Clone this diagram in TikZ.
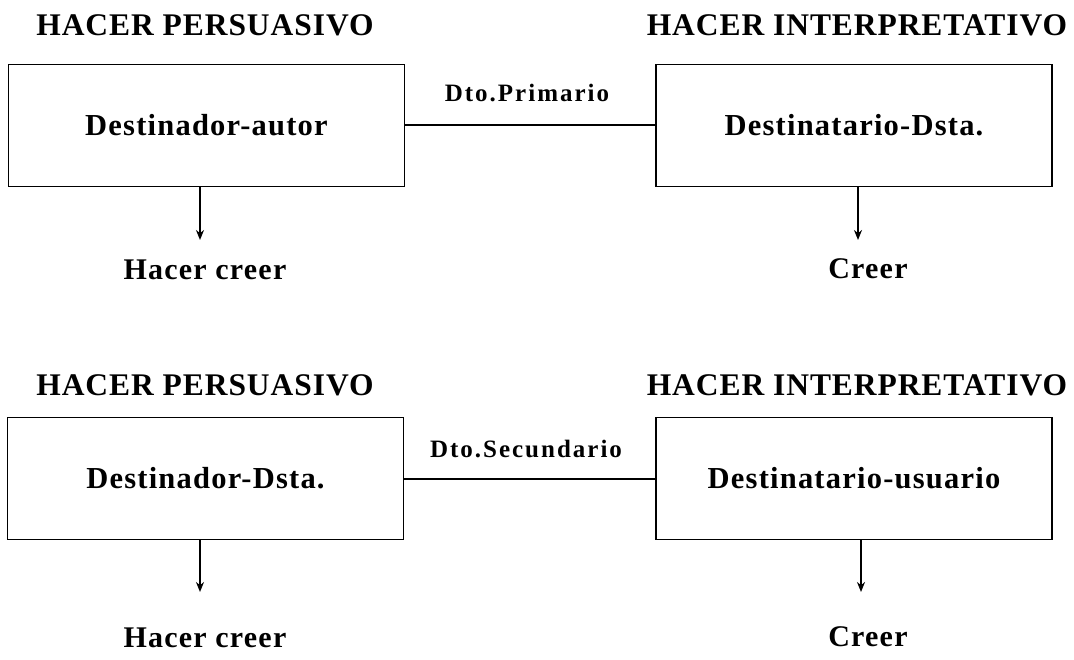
\documentclass[tikz,border=0pt]{standalone}
\usepackage{fontspec}
\usepackage{tikz}
\usetikzlibrary{arrows.meta}
\newfontfamily\dgfont{Liberation Serif}[LetterSpace=4]
\newfontfamily\dgtitfont{Liberation Serif}[LetterSpace=3]
\newfontfamily\dgdtofont{Liberation Serif}[LetterSpace=8]
\tikzset{
	caja/.style={draw, line width=1.3pt, minimum width=396pt, minimum height=122pt, inner sep=0pt, font=\dgfont\bfseries\fontsize{30.5}{30}\selectfont},
	titulo/.style={inner sep=0pt, font=\dgtitfont\bfseries\fontsize{31.5}{31}\selectfont},
	efecto/.style={inner sep=0pt, font=\dgfont\bfseries\fontsize{30}{30}\selectfont},
	dto/.style={inner sep=0pt, font=\dgdtofont\bfseries\fontsize{25}{25}\selectfont},
	flecha/.style={line width=2.2pt, -{Stealth[length=10pt, width=8pt]}},
	enlace/.style={line width=2pt}
}
\begin{document}
\begin{tikzpicture}[x=1pt, y=-1pt]
			%%%%% START %%%%%
			\useasboundingbox (0, 0) rectangle (1074, 660);
			
			% primario
			\node[titulo] (tpers1) at (205, 25) {HACER PERSUASIVO};
			\node[titulo] (tint1) at (857, 25) {HACER INTERPRETATIVO};
			\node[caja] (autor) at (206.5, 125.5) {Destinador-autor};
			\node[caja] (dsta1) at (854, 125.5) {Destinatario-Dsta.};
			\draw[enlace] (autor.east) -- (dsta1.west);
			\node[dto] (prim) at (527, 93) {Dto.Primario};
			\coordinate (p1) at (200, 240);
			\coordinate (p2) at (858, 240);
			\draw[flecha] (autor.south -| p1) -- (p1);
			\draw[flecha] (dsta1.south -| p2) -- (p2);
			\node[efecto] (hc1) at (205, 270) {Hacer creer};
			\node[efecto] (cr1) at (868, 269) {Creer};
			
			% secundario
			\node[titulo] (tpers2) at (205, 385) {HACER PERSUASIVO};
			\node[titulo] (tint2) at (857, 385) {HACER INTERPRETATIVO};
			\node[caja] (dsta2) at (205.5, 478.5) {Destinador-Dsta.};
			\node[caja] (usuario) at (854, 478.5) {Destinatario-usuario};
			\draw[enlace] (dsta2.east) -- (usuario.west);
			\node[dto] (sec) at (526, 449) {Dto.Secundario};
			\coordinate (p3) at (200, 592);
			\coordinate (p4) at (861, 592);
			\draw[flecha] (dsta2.south -| p3) -- (p3);
			\draw[flecha] (usuario.south -| p4) -- (p4);
			\node[efecto] (hc2) at (205, 638) {Hacer creer};
			\node[efecto] (cr2) at (868, 637) {Creer};
			%%%%% END %%%%%
\end{tikzpicture}
\end{document}
